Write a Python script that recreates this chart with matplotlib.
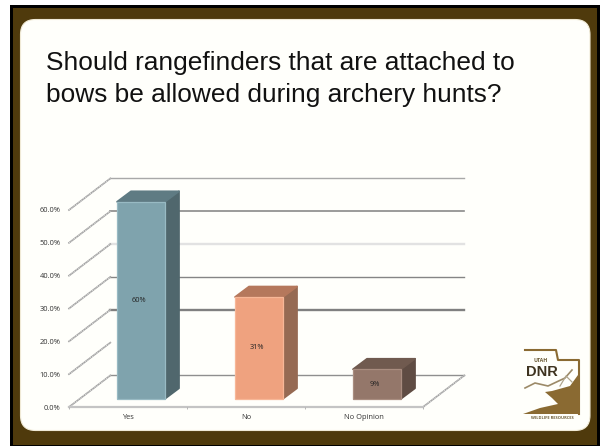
import matplotlib
matplotlib.use("Agg")
import matplotlib.pyplot as plt
from matplotlib.patches import Polygon, Rectangle, FancyBboxPatch

categories = ["Yes", "No", "No Opinion"]
values = [60, 31, 9]
value_labels = ["60%", "31%", "9%"]
front_colors = ["#7fa3ad", "#efa27f", "#94776a"]
edge_colors = ["#98bac3", "#f7b797", "#a98d80"]
side_colors = ["#50676d", "#966a53", "#5f4c43"]
top_colors = ["#5f7b83", "#b5785c", "#705a4f"]
ticks = [0, 10, 20, 30, 40, 50, 60]
tick_labels = ["0.0%", "10.0%", "20.0%", "30.0%", "40.0%", "50.0%", "60.0%"]
# back wall lines: level, colour, width
grid_levels = [0, 20, 30, 40, 50, 60]
grid_colors = ["#8f8f8f", "#808080", "#858585", "#e2e2e2", "#8a8a8a", "#a8a8a8"]
grid_widths = [1.0, 1.7, 1.0, 1.7, 1.2, 1.0]

W, H = 602, 447
fig = plt.figure(figsize=(W / 100, H / 100), dpi=100)
fig.patch.set_facecolor("white")

# slide background in pixels
bg = fig.add_axes([0, 0, 1, 1])
bg.set_xlim(0, W)
bg.set_ylim(H, 0)
bg.axis("off")
bg.add_patch(Rectangle((10, 5), 590, 441, fc="#000000", ec="none"))
bg.add_patch(Rectangle((13, 8), 584, 437, fc="#4f3a0c", ec="none"))
bg.add_patch(FancyBboxPatch((20.5, 19.5), 569.5, 411, boxstyle="round,pad=0,rounding_size=15",
                            fc="#fffffb", ec="#f0ead6", lw=0.8))

bg.text(46, 70, "Should rangefinders that are attached to", family="Liberation Sans",
        fontsize=18.9, color="#111111", va="baseline")
bg.text(46, 102, "bows be allowed during archery hunts?", family="Liberation Sans",
        fontsize=18.9, color="#111111", va="baseline")

# logo
brown = "#8a6a32"
bg.add_line(plt.Line2D([525, 556, 558, 579, 579], [350, 350, 360, 360, 414], color=brown, lw=1.5))
bg.add_patch(Polygon([(545, 392), (552, 391), (570, 386), (578, 375), (580, 414), (523, 414),
                      (540, 408), (558, 404), (552, 398)], fc=brown, ec="none"))
bg.add_line(plt.Line2D([525, 535, 548, 565, 572], [388, 383, 386, 378, 370], color="#9c8a68", lw=1.2))
bg.add_line(plt.Line2D([560, 566, 572], [386, 376, 382], color="#b0a58c", lw=0.9))
bg.text(541, 360, "UTAH", fontsize=3.8, color="#6b5a35", ha="center", va="center", weight="bold",
        family="Open Sans")
bg.text(542, 372, "DNR", fontsize=10.5, color="#3e3320", ha="center", va="center", weight="bold",
        family="Liberation Sans")
bg.text(552, 418, "WILDLIFE RESOURCES", fontsize=2.9, color="#6b5a35", ha="center", va="center",
        family="Open Sans", weight="bold")

# chart axes: front edge of floor from x=69 to 423, 0% at y=407, 60% at y=210
ax = fig.add_axes([69 / W, 1 - 407 / H, (423 - 69) / W, (407 - 210) / H])
ax.set_xlim(0, 3)
ax.set_ylim(0, 60)
ax.patch.set_alpha(0)
for s in ax.spines.values():
    s.set_visible(False)

dx = 0.35   # depth of the walls
dy = 9.6

for lev, col, lw in zip(grid_levels, grid_colors, grid_widths):
    ax.plot([dx, 3 + dx], [lev + dy, lev + dy], color=col, lw=lw, clip_on=False, zorder=1)

# slanted side wall lines
for t in ticks:
    ax.plot([0, dx], [t, t + dy], color="#a0a0a0", lw=1.2, clip_on=False, zorder=1)
    ax.plot([0, dx], [t, t + dy], color="#ffffff", lw=0.4, ls=(0, (2, 2)), clip_on=False, zorder=1)
ax.plot([3, 3 + dx], [0, dy], color="#a0a0a0", lw=1.2, clip_on=False, zorder=1)
ax.plot([3, 3 + dx], [0, dy], color="#ffffff", lw=0.4, ls=(0, (2, 2)), clip_on=False, zorder=1)
ax.plot([0, 3], [0, 0], color="#c4c4c4", lw=1.6, clip_on=False, zorder=1)

# 3d bars
bar_w = 0.407
shift = 0.11
base = 2.5
side_x = 0.119
side_y = 3.2
for i, v in enumerate(values):
    left = i + 0.5 + shift - bar_w / 2
    right = left + bar_w
    top = base + v
    ax.add_patch(Polygon([(right, base), (right + side_x, base + side_y),
                          (right + side_x, top + side_y), (right, top)],
                         fc=side_colors[i], ec=side_colors[i], lw=1.2, joinstyle="round",
                         zorder=3, clip_on=False))
    ax.add_patch(Polygon([(left, top), (left + side_x, top + side_y),
                          (right + side_x, top + side_y), (right, top)],
                         fc=top_colors[i], ec=top_colors[i], lw=1.2, joinstyle="round",
                         zorder=3, clip_on=False))
    ax.bar(i + 0.5 + shift, v, bar_w, bottom=base, color=front_colors[i], zorder=4,
           edgecolor=edge_colors[i], lw=0.9, clip_on=False)
    ax.text(i + 0.5 + shift - 0.017, base + v / 2, value_labels[i], ha="center", va="center",
            fontsize=5.3, color="#222222", family="Open Sans", zorder=5)

ax.set_yticks(ticks)
ax.set_yticklabels(tick_labels, fontsize=5.4, color="#333333", family="Open Sans")
ax.set_xticks([0.5, 1.5, 2.5])
ax.set_xticklabels(categories, fontsize=5.4, color="#333333", family="Open Sans")
ax.tick_params(axis="y", length=0, pad=6)
ax.tick_params(axis="x", length=0, pad=5)
# category separators on the floor edge
ax.vlines([0, 1, 2, 3], -0.7, 0, color="#aaaaaa", lw=0.6, clip_on=False)

fig.savefig("out.png", dpi=100)
